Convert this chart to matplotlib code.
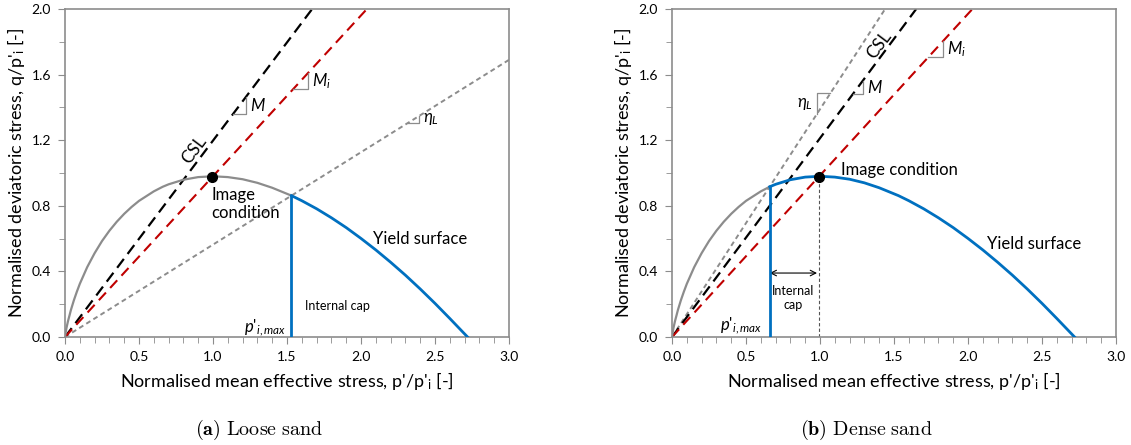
import numpy as np
import matplotlib
matplotlib.use("Agg")
import matplotlib.pyplot as plt

plt.rcParams['font.family'] = ['Lato', 'DejaVu Sans']
plt.rcParams['mathtext.fontset'] = 'custom'
plt.rcParams['mathtext.it'] = 'Lato:italic'
plt.rcParams['mathtext.rm'] = 'Lato'

# yield surface points (same shape in both panels)
p_pts = [0.0, 0.002, 0.005, 0.01, 0.02, 0.03, 0.04, 0.06, 0.08, 0.1, 0.15, 0.2, 0.25,
         0.3, 0.35, 0.4, 0.45, 0.5, 0.6, 0.66, 0.7, 0.8, 0.9, 1.0, 1.1, 1.2, 1.3, 1.4,
         1.53, 1.6, 1.7, 1.8, 1.9, 2.0, 2.1, 2.2, 2.3, 2.4, 2.5, 2.6, 2.72]
q_pts = [0.0, 0.014, 0.031, 0.055, 0.096, 0.13, 0.165, 0.224, 0.276, 0.324, 0.426,
         0.511, 0.585, 0.648, 0.703, 0.751, 0.793, 0.830, 0.888, 0.916, 0.931, 0.959,
         0.975, 0.98, 0.975, 0.962, 0.940, 0.910, 0.862, 0.831, 0.782, 0.727, 0.667,
         0.601, 0.531, 0.456, 0.377, 0.293, 0.205, 0.113, 0.0]

# straight lines through origin: end points read at top / right edge
csl_end = {"loose": (1.67, 2.0), "dense": (1.65, 2.0)}
mi_end = {"loose": (2.04, 2.0), "dense": (2.03, 2.0)}
etal_end = {"loose": (3.0, 1.69), "dense": (1.44, 2.0)}
p_imax = {"loose": 1.53, "dense": 0.66}
image_pt = (0.99, 0.975)

GRAY = "#8c8c8c"
BLUE = "#0070c0"
RED = "#c00000"

fig = plt.figure(figsize=(11.31, 4.45), dpi=100)
ax_l = fig.add_axes([65 / 1131, 108 / 445, 444 / 1131, 328 / 445])
ax_r = fig.add_axes([672 / 1131, 108 / 445, 444 / 1131, 328 / 445])


def style_axes(ax):
    ax.set_xlim(0, 3.0)
    ax.set_ylim(0, 2.0)
    ax.set_xticks(np.arange(0, 3.01, 0.5))
    ax.set_xticks(np.arange(0, 3.01, 0.1), minor=True)
    ax.set_yticks(np.arange(0, 2.01, 0.4))
    ax.set_yticks(np.arange(0, 2.01, 0.2), minor=True)
    ax.xaxis.set_major_formatter(matplotlib.ticker.FormatStrFormatter('%.1f'))
    ax.yaxis.set_major_formatter(matplotlib.ticker.FormatStrFormatter('%.1f'))
    for s in ax.spines.values():
        s.set_color(GRAY)
        s.set_linewidth(1.2)
    ax.tick_params(which='both', direction='out', color=GRAY, labelsize=10)
    ax.tick_params(which='major', length=5, pad=5)
    ax.tick_params(which='minor', length=4)
    ax.set_xlabel("Normalised mean effective stress, p'/p'$_\\mathrm{i}$ [-]", fontsize=13, labelpad=5)
    ax.set_ylabel("Normalised deviatoric stress, q/p'$_\\mathrm{i}$ [-]", fontsize=13, labelpad=3)


def slope_mark(ax, x0, x1, slope, label, side="right"):
    # little right-angle triangle on a line
    if side == "right":
        ax.plot([x0, x1, x1], [slope * x0, slope * x0, slope * x1], color=GRAY, lw=0.9)
        ax.text(x1 + 0.03, (slope * x0 + slope * x1) / 2, label, fontsize=12,
                ha='left', va='center')
    else:
        ax.plot([x1, x0, x0], [slope * x1, slope * x1, slope * x0], color=GRAY, lw=0.9)
        ax.text(x0 - 0.03, (slope * x0 + slope * x1) / 2, label, fontsize=12,
                ha='right', va='center')


def draw_panel(ax, key):
    p = np.array(p_pts)
    q = np.array(q_pts)
    cut = p_imax[key]
    inner = p <= cut + 1e-9
    outer = p >= cut - 1e-9
    ax.plot(p[inner], q[inner], color=GRAY, lw=1.6, zorder=3)
    ax.plot(p[outer], q[outer], color=BLUE, lw=2.0, zorder=4)
    q_cut = q[np.isclose(p, cut)][0]
    ax.plot([cut, cut], [0, q_cut], color=BLUE, lw=2.0, zorder=4)

    ex, ey = etal_end[key]
    ax.plot([0, ex], [0, ey], color=GRAY, lw=1.4, dashes=(2.5, 1.8), zorder=2)
    cx, cy = csl_end[key]
    ax.plot([0, cx], [0, cy], color="black", lw=1.6, dashes=(5, 2.8), zorder=2)
    mx, my = mi_end[key]
    ax.plot([0, mx], [0, my], color=RED, lw=1.5, dashes=(5, 3), zorder=2)

    ax.plot(*image_pt, 'o', color='black', ms=7, zorder=5)
    style_axes(ax)
    return cy / cx, my / mx, ey / ex


ax = ax_l
M, Mi, etaL = draw_panel(ax, "loose")
slope_mark(ax, 1.135, 1.223, M, "$M$")
slope_mark(ax, 1.54, 1.64, Mi, "$M_i$")
slope_mark(ax, 2.32, 2.39, etaL, "$\\eta_L$")
ax.text(0.87, 1.14, "CSL", rotation=53, fontsize=12.5, ha='center', va='center')
ax.text(0.99, 0.81, "Image\ncondition", fontsize=12, ha='left', va='center', linespacing=1.15)
ax.text(2.08, 0.60, "Yield surface", fontsize=12, ha='left', va='center')
ax.text(1.62, 0.19, "Internal cap", fontsize=9, ha='left', va='center')
ax.text(1.49, 0.06, "$p$'$_{i,max}$", fontsize=12, ha='right', va='center')
fig.text(259 / 1131, 15 / 445, r"$\mathbf{(a)}\ \mathrm{Loose\ sand}$", fontsize=14.5,
         math_fontfamily='cm', ha='center', va='center')

ax = ax_r
M, Mi, etaL = draw_panel(ax, "dense")
ax.plot([image_pt[0], image_pt[0]], [0, image_pt[1]], color="#555555", lw=0.8,
        dashes=(3, 2), zorder=2)
ax.annotate("", xy=(0.66, 0.39), xytext=(0.98, 0.39),
            arrowprops=dict(arrowstyle='<->', color='black', lw=0.8, shrinkA=0, shrinkB=0))
slope_mark(ax, 0.98, 1.07, etaL, "$\\eta_L$", side="left")
slope_mark(ax, 1.22, 1.29, M, "$M$")
slope_mark(ax, 1.73, 1.83, Mi, "$M_i$")
ax.text(1.40, 1.78, "CSL", rotation=53, fontsize=12.5, ha='center', va='center')
ax.text(1.14, 1.02, "Image condition", fontsize=12, ha='left', va='center')
ax.text(2.13, 0.57, "Yield surface", fontsize=12, ha='left', va='center')
ax.text(0.82, 0.235, "Internal\ncap", fontsize=9, ha='center', va='center')
ax.text(0.61, 0.07, "$p$'$_{i,max}$", fontsize=12, ha='right', va='center')
fig.text(866 / 1131, 15 / 445, r"$\mathbf{(b)}\ \mathrm{Dense\ sand}$", fontsize=14.5,
         math_fontfamily='cm', ha='center', va='center')

fig.savefig("out.png", dpi=100)
